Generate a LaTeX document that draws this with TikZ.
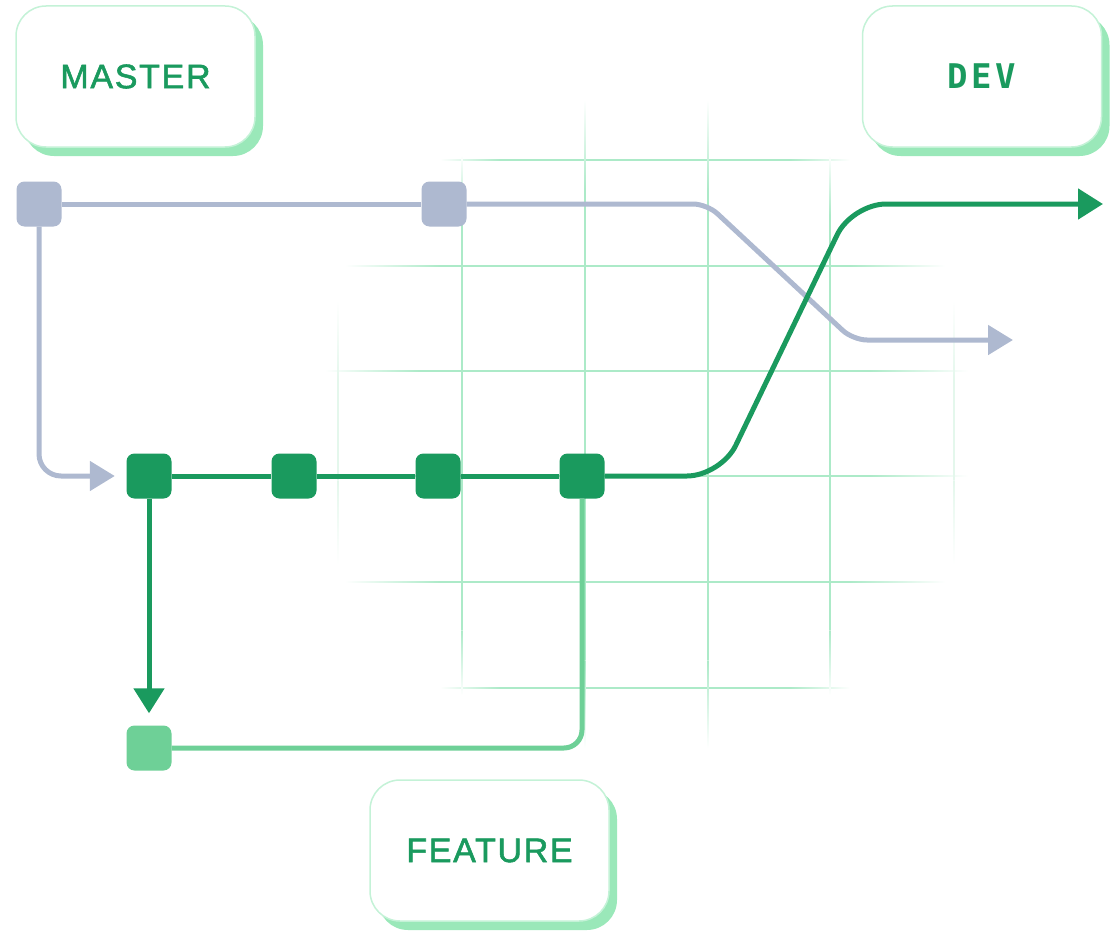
\documentclass[tikz,border=0pt]{standalone}
\usepackage{fontspec}
\usetikzlibrary{arrows.meta,shadows}
\newfontfamily\lblsans[LetterSpace=5,FakeBold=1.6]{Liberation Sans}
\newfontfamily\lblmono[LetterSpace=10]{DejaVu Sans Mono Bold}
\definecolor{dkgreen}{RGB}{26,154,94}
\definecolor{ltgreen}{RGB}{110,208,151}
\definecolor{slate}{RGB}{174,185,208}
\definecolor{gridc}{RGB}{172,234,200}
\definecolor{gridf}{RGB}{228,247,236}
\definecolor{boxline}{RGB}{196,242,215}
\definecolor{boxshadow}{RGB}{154,232,185}
\newcommand{\hgrid}[6]{%
  \shade[left color=white,right color=#6] (#2,#1-0.6) rectangle (#3,#1+0.6);
  \fill[#6] (#3,#1-0.6) rectangle (#4,#1+0.6);
  \shade[left color=#6,right color=white] (#4,#1-0.6) rectangle (#5,#1+0.6);}
\newcommand{\vgrid}[6]{%
  \shade[top color=white,bottom color=#6] (#1-0.6,#2) rectangle (#1+0.6,#3);
  \fill[#6] (#1-0.6,#3) rectangle (#1+0.6,#4);
  \shade[top color=#6,bottom color=white] (#1-0.6,#4) rectangle (#1+0.6,#5);}
\tikzset{
  commit/.style={rectangle, minimum size=45pt, inner sep=0pt, rounded corners=8pt, draw=none},
  label box/.style={rectangle, minimum width=239pt, minimum height=141pt, rounded corners=30pt,
    fill=white, draw=boxline, line width=1.5pt, text=dkgreen,
    copy shadow={shadow xshift=8pt, shadow yshift=-9pt, fill=boxshadow, draw=none}},
  grayline/.style={draw=slate, line width=5pt},
  devline/.style={draw=dkgreen, line width=5pt},
  featline/.style={draw=ltgreen, line width=5pt},
  grayarrow/.style={-{Triangle[length=25pt,width=29pt]}},
  greenarrow/.style={-{Triangle[length=25pt,width=30pt]}},
}
\begin{document}
\begin{tikzpicture}[x=1pt,y=-1pt]
\useasboundingbox (0,0) rectangle (1120,934);
% grid
\hgrid{160}{440}{500}{790}{850}{gridc}
\hgrid{266}{345}{440}{850}{945}{gridc}
\hgrid{371}{325}{420}{870}{968}{gridc}
\hgrid{476}{325}{420}{870}{968}{gridc}
\hgrid{582}{345}{440}{850}{945}{gridc}
\hgrid{688}{440}{500}{790}{850}{gridc}
\vgrid{338}{300}{380}{480}{565}{gridf}
\vgrid{462}{155}{215}{630}{695}{gridc}
\vgrid{585}{100}{190}{660}{748}{gridc}
\vgrid{708}{100}{190}{660}{748}{gridc}
\vgrid{830}{155}{215}{630}{695}{gridc}
\vgrid{954}{300}{380}{480}{565}{gridf}
% label boxes
\node[label box] (master) at (135.5,76.5) {\lblsans\fontsize{34}{40}\selectfont MASTER};
\node[label box] (dev) at (982,76.5) {\lblmono\fontsize{34}{40}\selectfont DEV};
\node[label box] (feature) at (489.5,850.5) {\lblsans\fontsize{34}{40}\selectfont FEATURE};
% commits
\node[commit, fill=slate] (m1) at (39,204) {};
\node[commit, fill=slate] (m2) at (444,204) {};
\node[commit, fill=dkgreen] (d1) at (149,476) {};
\node[commit, fill=dkgreen] (d2) at (294,476) {};
\node[commit, fill=dkgreen] (d3) at (438,476) {};
\node[commit, fill=dkgreen] (d4) at (582,476) {};
\node[commit, fill=ltgreen] (f1) at (149,748) {};
\coordinate (masterend) at (1013,340);
\coordinate (devend) at (1103,204);
% connectors
\draw[grayline] (m1) -- (m2);
\draw[grayline, grayarrow, rounded corners=14pt] (m2.east) -- (707,204) -- (853,340) -- (masterend);
\draw[grayline, grayarrow, rounded corners=22pt, shorten >=11.5pt] (m1.south) |- (d1.west);
\draw[devline] (d1) -- (d2);
\draw[devline] (d2) -- (d3);
\draw[devline] (d3) -- (d4);
\draw[devline, greenarrow, rounded corners=34pt] (d4.east) -- (721,476) -- (852,204) -- (devend);
\draw[devline, greenarrow, shorten >=12pt] (d1.south) -- (f1.north);
\draw[featline, rounded corners=18pt] (f1.east) -| (d4.south);
\end{tikzpicture}
\end{document}
